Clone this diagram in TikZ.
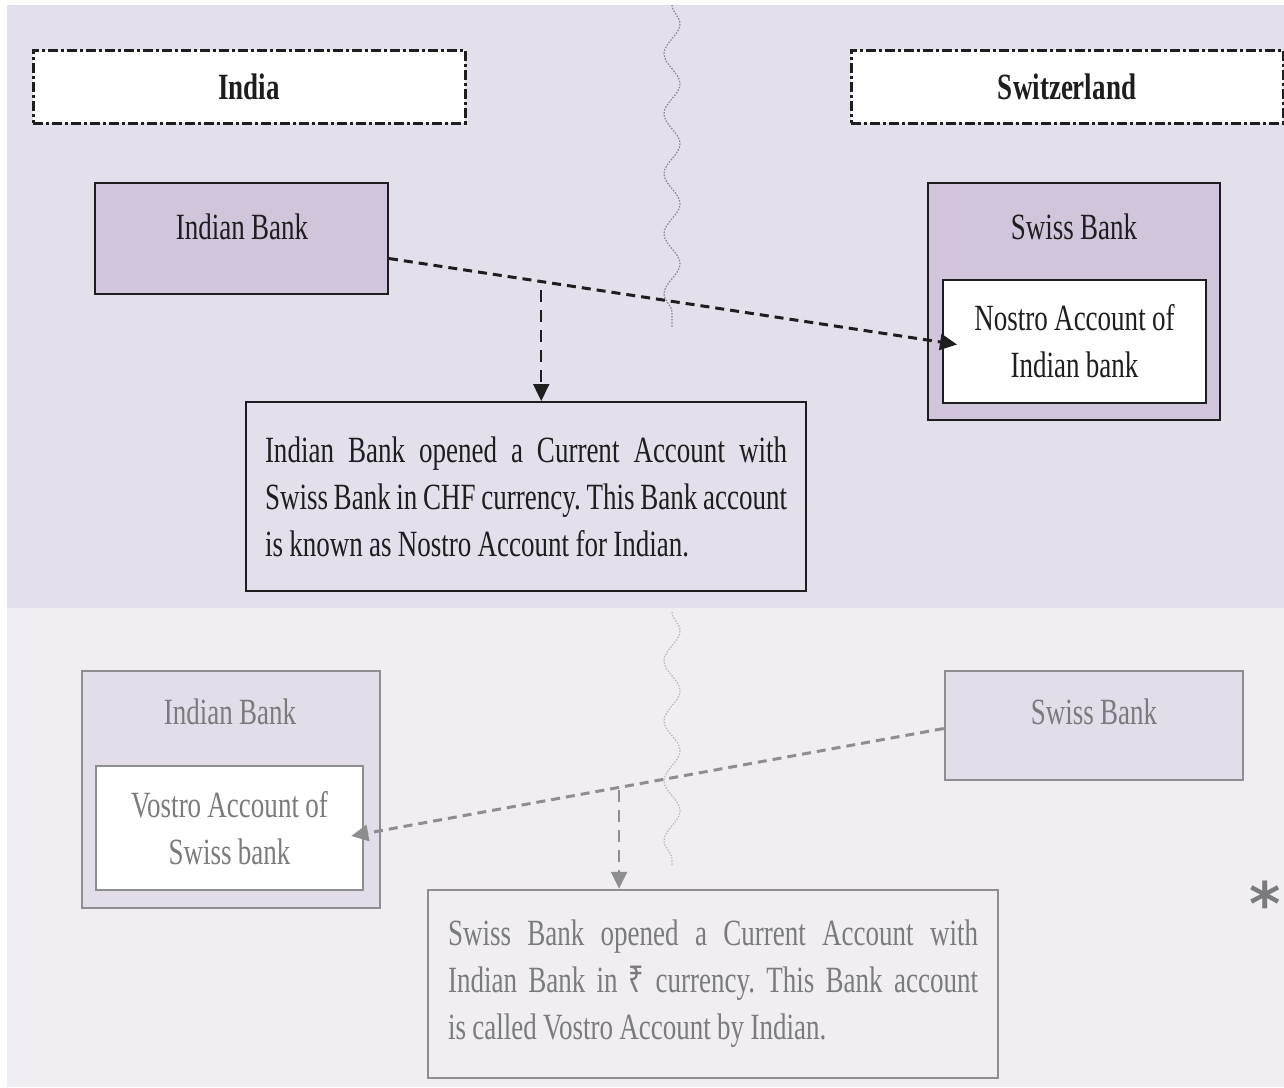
\documentclass[tikz,border=0pt]{standalone}
\usepackage{fontspec}
\setmainfont[FakeStretch=0.73]{Liberation Serif}
\newfontfamily\rupeefont[FakeStretch=0.73]{Noto Sans}
\newfontfamily\starfont{DejaVu Sans}
\usetikzlibrary{arrows.meta,decorations.pathmorphing,calc}

\definecolor{bgtop}{HTML}{E3DFEB}
\definecolor{bgbot}{HTML}{F0EDF3}
\definecolor{bankfill}{HTML}{D1C5DB}
\definecolor{fadefill}{HTML}{E2DDE8}
\definecolor{ink}{HTML}{1E1E1E}
\definecolor{fadeink}{HTML}{7B7B7D}
\definecolor{fadeline}{HTML}{8E8E90}
\definecolor{wavegray}{HTML}{8A8590}

% narrow word spaces to suit the condensed face
\newcommand{\tightspaces}{\frenchspacing\spaceskip=0.17em plus 0.05em\relax}
% one line of a paragraph, its word spaces spread to the given width
\newcommand{\spreadline}[2]{\leavevmode{\spaceskip=0.15em plus 1fil\relax\hbox to #1{#2}}}
% closing line of a paragraph, set at its natural width
\newcommand{\lastline}[1]{{\tightspaces #1}}

\tikzset{
  txt/.style={font=\fontsize{37}{47}\selectfont\tightspaces},
  region/.style={draw=ink, line width=3pt, dash pattern=on 10pt off 3pt on 3pt off 3pt,
    fill=white, minimum width=432pt, minimum height=73pt, inner sep=0pt,
    font=\fontsize{37}{40}\selectfont\bfseries, text=ink},
  bankbox/.style={draw=ink, line width=2pt, fill=bankfill, inner sep=0pt},
  fadebank/.style={draw=fadeline, line width=2.5pt, fill=fadefill, inner sep=0pt},
  acct/.style={draw=ink, line width=2pt, fill=white, align=center, txt, text=ink, inner sep=0pt},
  fadeacct/.style={draw=fadeline, line width=2.5pt, fill=white, align=center, txt, text=fadeink, inner sep=0pt},
  banklabel/.style={txt, inner sep=0pt, anchor=center},
  notebox/.style={draw=ink, line width=2pt, fill=bgtop, txt, text=ink, align=left, inner ysep=0pt},
  fadenote/.style={draw=fadeline, line width=2.5pt, fill=bgbot, txt, text=fadeink, align=left, inner ysep=0pt},
  link/.style={draw=ink, line width=3pt, dash pattern=on 9pt off 6pt,
    -{Triangle[length=17pt,width=16pt]}},
  drop/.style={draw=ink, line width=2.2pt, dash pattern=on 12pt off 8pt,
    -{Triangle[length=17pt,width=16pt]}},
  wave/.style={draw=wavegray, line width=1.2pt, dash pattern=on 1.5pt off 1.5pt,
    decorate, decoration={snake, segment length=60pt, amplitude=8pt}},
}

\begin{document}
\begin{tikzpicture}[x=1pt,y=-1pt]
  % backdrop: upper (Nostro) and lower (Vostro) halves
  \fill[white] (0,0) rectangle (1284,1087);
  \fill[bgtop] (7,5) rectangle (1284,608);
  \fill[bgbot] (7,608) rectangle (1284,1087);
  \useasboundingbox (0,0) rectangle (1284,1087);

  % border between the two countries
  \draw[wave] (672,5) -- (672,328);
  \draw[wave, draw=wavegray!60] (672,612) -- (672,866);

  % country headings
  \node[region] (india) at (249,86.5) {\raisebox{-4pt}{India}};
  \node[region] (swiss) at (1067,86.5) {\raisebox{-4pt}{Switzerland}};

  % ---- upper half: Nostro account ----
  \node[bankbox, minimum width=293pt, minimum height=111pt] (ib) at (241.5,238.5) {};
  \node[banklabel, text=ink] (ibt) at (242,227) {Indian Bank};

  \node[bankbox, minimum width=292pt, minimum height=237pt] (sb) at (1074,301.5) {};
  \node[banklabel, text=ink] (sbt) at (1074,227) {Swiss Bank};
  \node[acct, minimum width=263pt, minimum height=123pt] (nostro) at (1074.5,341.5)
    {Nostro Account of\\Indian bank};

  \node[notebox, text width=522pt, inner xsep=19pt, minimum height=189pt] (note1) at (526,496.5)
    {\spreadline{522pt}{Indian Bank opened a Current Account with}\\
     \spreadline{522pt}{Swiss Bank in CHF currency. This Bank account}\\
     \lastline{is known as Nostro Account for Indian.}};

  \coordinate (n1s) at ([yshift=-20pt]ib.east);
  \coordinate (n1e) at ([xshift=15pt,yshift=-3pt]nostro.west);
  \draw[link] (n1s) -- (n1e);
  \coordinate (n1b) at ($(n1s)!0.268!(n1e)$);
  \draw[drop] ([yshift=-8pt]n1b) -- (n1b |- note1.north);

  % ---- lower half: Vostro account ----
  \node[fadebank, minimum width=298pt, minimum height=237pt] (ib2) at (231,789.5) {};
  \node[banklabel, text=fadeink] (ib2t) at (230,712) {Indian Bank};
  \node[fadeacct, minimum width=267pt, minimum height=124pt] (vostro) at (229.5,828)
    {Vostro Account of\\Swiss bank};

  \node[fadebank, minimum width=298pt, minimum height=109pt] (sb2) at (1094,725.5) {};
  \node[banklabel, text=fadeink] (sb2t) at (1094,712) {Swiss Bank};

  \node[fadenote, text width=530pt, inner xsep=20pt, minimum height=188pt] (note2) at (713,984)
    {\spreadline{530pt}{Swiss Bank opened a Current Account with}\\
     \spreadline{530pt}{Indian Bank in {\rupeefont ₹} currency. This Bank account}\\
     \lastline{is called Vostro Account by Indian.}};

  \coordinate (n2s) at ([yshift=-3pt]sb2.west);
  \coordinate (n2e) at ([xshift=-13pt,yshift=-8pt]vostro.east);
  \draw[link, draw=fadeline] (n2s) -- (n2e);
  \coordinate (n2b) at ($(n2s)!0.548!(n2e)$);
  \draw[drop, draw=fadeline] ([yshift=-3pt]n2b) -- (n2b |- note2.north);

  % footnote mark
  \node[text=fadeink, font=\starfont\fontsize{60}{60}\selectfont\bfseries, inner sep=0pt] (star) at (1265,903) {*};
\end{tikzpicture}
\end{document}
